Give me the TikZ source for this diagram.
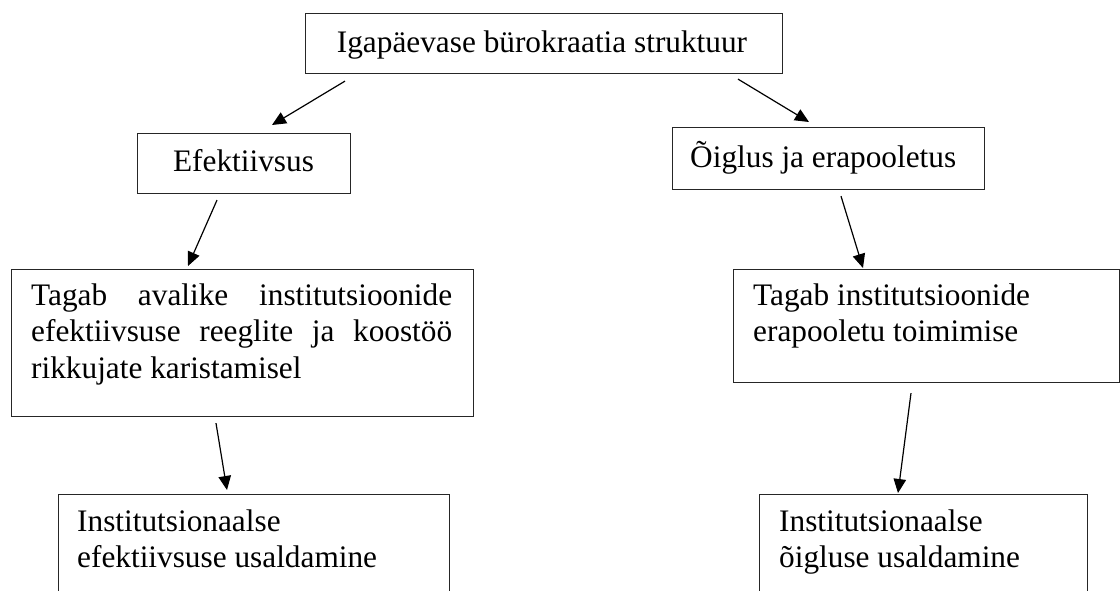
\documentclass[tikz,border=0pt]{standalone}
\usepackage{fontspec}
\setmainfont{Liberation Serif}
\usetikzlibrary{arrows.meta,calc}
\begin{document}
\begin{tikzpicture}[x=1pt,y=-1pt,
  box/.style={draw=black!85, line width=1.1pt, inner sep=0pt, anchor=north west},
  txt/.style={inner sep=0pt, font=\fontsize{31.3}{36.5}\selectfont},
  arr/.style={line width=1.2pt, -{Triangle[length=14pt,width=12.5pt]}}]
\useasboundingbox (0,0) rectangle (1120,590);
\clip (0,0) rectangle (1120,590);
\hyphenpenalty=10000
% boxes
\node[box, minimum width=477pt, minimum height=60pt] (top) at (305,13) {};
\node[box, minimum width=213pt, minimum height=60pt] (eff) at (137,133) {};
\node[box, minimum width=312pt, minimum height=62pt] (oig) at (672,127) {};
\node[box, minimum width=462pt, minimum height=147pt] (tagL) at (11,269) {};
\node[box, minimum width=386pt, minimum height=113pt] (tagR) at (733,269) {};
\node[box, minimum width=391pt, minimum height=130pt] (instL) at (58,494) {};
\node[box, minimum width=328pt, minimum height=130pt] (instR) at (759,494) {};
% texts
\node[txt, anchor=base] (topT) at (542,52) {Igapäevase bürokraatia struktuur};
\node[txt, anchor=base] (effT) at (243.5,171) {Efektiivsus};
\node[txt, anchor=base west] (oigT) at (690,167) {Õiglus ja erapooletus};
\node[txt, anchor=base west] (tagLT) at (31,305) {\parbox[t]{421pt}{Tagab avalike institutsioonide\linebreak efektiivsuse reeglite ja koostöö\linebreak rikkujate karistamisel}};
\node[txt, anchor=base west] (tagRT) at (753,305) {\parbox[t]{360pt}{\raggedright Tagab institutsioonide\\erapooletu toimimise}};
\node[txt, anchor=base west] (instLT) at (77,531) {\parbox[t]{360pt}{\raggedright Institutsionaalse\\efektiivsuse usaldamine}};
\node[txt, anchor=base west] (instRT) at (779,531) {\parbox[t]{300pt}{\raggedright Institutsionaalse\\õigluse usaldamine}};
% arrows
\draw[arr] ($(top.south west)+(40,7)$) -- ($(eff.north west)+(135,-8)$);
\draw[arr] ($(top.south west)+(433,5)$) -- ($(oig.north west)+(137,-5)$);
\draw[arr] ($(eff.south west)+(80,6)$) -- ($(tagL.north west)+(177,-3)$);
\draw[arr] ($(oig.south west)+(169,6)$) -- ($(tagR.north west)+(130,-1)$);
\draw[arr] ($(tagL.south west)+(205,6)$) -- ($(instL.north west)+(169,-4)$);
\draw[arr] ($(tagR.south west)+(178,10)$) -- ($(instR.north west)+(139,-1)$);
\end{tikzpicture}
\end{document}
